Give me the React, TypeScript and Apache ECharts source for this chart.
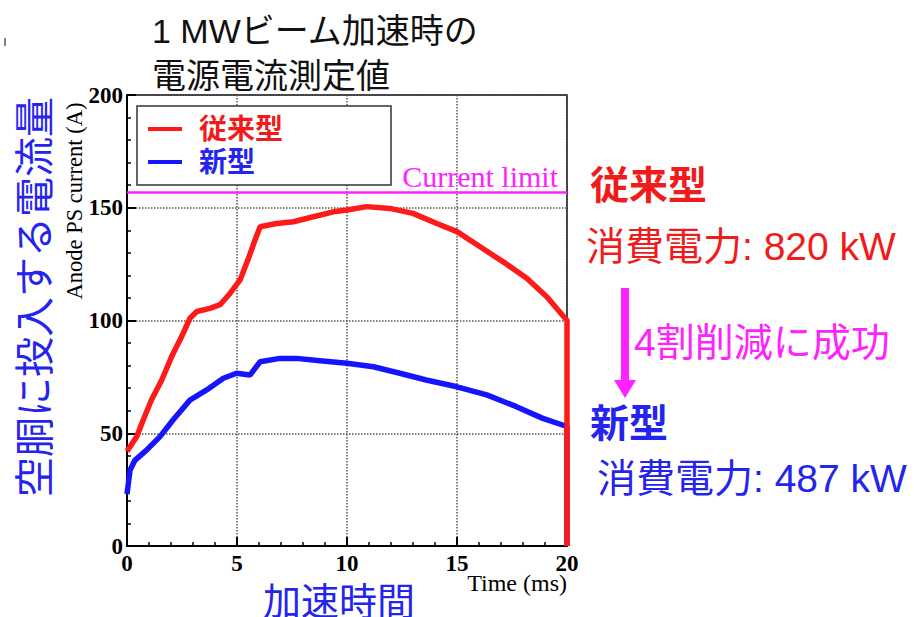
import React, { useEffect, useRef } from "react";
import * as echarts from "echarts";

// ---- data ----
const xTicks = [0, 5, 10, 15, 20];
const yTicks = [0, 50, 100, 150, 200];
const currentLimit = 157;

const legacyName = "従来型";
const newName = "新型";

const timeLegacy = [0, 0.44, 0.74, 1.12, 1.58, 2.03, 2.49, 2.86, 3.17, 3.77, 4.23, 4.68, 5.14, 5.5, 5.82, 6.05, 6.8, 7.56, 8.47, 9.38, 10.0, 10.9, 11.95, 13.0, 14.08, 15.0, 16.05, 17.1, 18.17, 19.08, 20, 20];
const currentLegacy = [42, 48.5, 56, 65, 73.6, 84, 93, 101, 104, 105.4, 107, 112, 118, 127, 135.7, 141.6, 143, 143.8, 146, 148.2, 149, 150.5, 149.7, 147.5, 143, 139.4, 132.7, 126, 118.7, 110.5, 100, 0];

const timeNew = [0, 0.14, 0.36, 0.9, 1.5, 2.1, 2.86, 3.62, 4.38, 4.98, 5.59, 6.05, 6.95, 7.7, 8.77, 10.0, 11.2, 12.4, 13.6, 15.0, 16.35, 17.7, 18.9, 20, 20];
const currentNew = [23, 33.7, 38, 42.6, 48.5, 56, 64.7, 69.2, 74.4, 76.6, 75.8, 81.7, 83.2, 83.2, 82.2, 81, 79.5, 76.6, 73.6, 70.6, 67, 61.8, 56.6, 53, 0];

const RED = "#ff1a1a";
const RED_TEXT = "#f01c1c";
const BLUE = "#1414ff";
const BLUE_TEXT = "#2424ee";
const MAGENTA = "#ff22ff";
const SERIF = "'Liberation Serif', 'DejaVu Serif', serif";
const SANS = "'Liberation Sans', 'Noto Sans CJK JP', 'Noto Sans', sans-serif";

export default function App() {
  const ref = useRef<HTMLDivElement>(null);

  useEffect(() => {
    if (!ref.current) return;
    const chart = echarts.init(ref.current, undefined, { renderer: "svg" });

    const legacyData = timeLegacy.map((t, i) => [t, currentLegacy[i]]);
    const newData = timeNew.map((t, i) => [t, currentNew[i]]);

    chart.setOption({
      animation: false,
      backgroundColor: "#ffffff",
      grid: {
        left: 127,
        top: 95,
        width: 440,
        height: 451,
        show: true,
        borderColor: "#000",
        borderWidth: 1.5,
        backgroundColor: "transparent",
      },
      xAxis: {
        type: "value",
        min: xTicks[0],
        max: xTicks[xTicks.length - 1],
        interval: 5,
        axisLine: { show: true, lineStyle: { color: "#000", width: 2 } },
        axisTick: { show: true, inside: true, length: 9, lineStyle: { color: "#000", width: 2 } },
        minorTick: { show: true, splitNumber: 5, length: 4, lineStyle: { color: "#000", width: 1.5 } },
        splitLine: { show: true, lineStyle: { color: "#555", type: "dotted", width: 1.5 } },
        axisLabel: {
          fontFamily: SERIF,
          fontWeight: "bold",
          fontSize: 23,
          color: "#000",
          margin: 6,
        },
      },
      yAxis: {
        type: "value",
        min: yTicks[0],
        max: yTicks[yTicks.length - 1],
        interval: 50,
        axisLine: { show: true, lineStyle: { color: "#000", width: 2 } },
        axisTick: { show: true, inside: true, length: 9, lineStyle: { color: "#000", width: 2 } },
        minorTick: { show: true, splitNumber: 5, length: 4, lineStyle: { color: "#000", width: 1.5 } },
        splitLine: { show: true, lineStyle: { color: "#555", type: "dotted", width: 1.5 } },
        axisLabel: {
          fontFamily: SERIF,
          fontWeight: "bold",
          fontSize: 23,
          color: "#000",
          margin: 4,
        },
      },
      legend: {
        orient: "vertical",
        left: 148,
        top: 115,
        padding: 0,
        itemGap: 5,
        itemWidth: 34,
        itemHeight: 4,
        icon: "rect",
        z: 20,
        selectedMode: false,
        textStyle: {
          fontFamily: SANS,
          fontWeight: "bold",
          fontSize: 28,
          lineHeight: 28,
          padding: [0, 0, 0, 12],
        },
        data: [
          { name: legacyName, textStyle: { color: RED_TEXT } },
          { name: newName, textStyle: { color: BLUE_TEXT } },
        ],
      },
      series: [
        {
          name: newName,
          type: "line",
          data: newData,
          showSymbol: false,
          symbol: "none",
          lineStyle: { color: BLUE, width: 5.5 },
          itemStyle: { color: BLUE },
          z: 3,
        },
        {
          name: legacyName,
          type: "line",
          data: legacyData,
          showSymbol: false,
          symbol: "none",
          lineStyle: { color: RED, width: 5.5 },
          itemStyle: { color: RED },
          z: 4,
          markLine: {
            symbol: "none",
            silent: true,
            lineStyle: { color: MAGENTA, width: 2.5, type: "solid" },
            label: {
              show: true,
              position: "insideEndTop",
              formatter: "Current limit",
              fontFamily: SERIF,
              fontSize: 30,
              color: MAGENTA,
              distance: [9, 0],
            },
            data: [{ yAxis: currentLimit }],
          },
        },
      ],
      graphic: [
        { type: "line", shape: { x1: 5, y1: 38, x2: 5, y2: 46 }, style: { stroke: "#000", lineWidth: 1 } },
        {
          type: "rect",
          z: 10,
          shape: { x: 137, y: 106, width: 254, height: 79 },
          style: { fill: "#fff", stroke: "#333", lineWidth: 1.5 },
        },
        {
          type: "text",
          x: 152,
          y: 31,
          style: { text: "1 MWビーム加速時の", font: `34px ${SANS}`, fill: "#111", align: "left", verticalAlign: "middle" },
        },
        {
          type: "text",
          x: 152,
          y: 76,
          style: { text: "電源電流測定値", font: `34px ${SANS}`, fill: "#111", align: "left", verticalAlign: "middle" },
        },
        {
          type: "text",
          x: 35,
          y: 297,
          rotation: Math.PI / 2,
          style: { text: "空胴に投入する電流量", font: `40px ${SANS}`, fill: BLUE_TEXT, align: "center", verticalAlign: "middle" },
        },
        {
          type: "text",
          x: 74,
          y: 201,
          rotation: Math.PI / 2,
          style: { text: "Anode PS current (A)", font: `22.5px ${SERIF}`, fill: "#000", align: "center", verticalAlign: "middle" },
        },
        {
          type: "text",
          x: 567,
          y: 583,
          style: { text: "Time (ms)", font: `24px ${SERIF}`, fill: "#000", align: "right", verticalAlign: "middle" },
        },
        {
          type: "text",
          x: 263,
          y: 602,
          style: { text: "加速時間", font: `38px ${SANS}`, fill: BLUE_TEXT, align: "left", verticalAlign: "middle" },
        },
        {
          type: "text",
          x: 590,
          y: 185,
          style: { text: "従来型", font: `bold 39px ${SANS}`, fill: RED_TEXT, align: "left", verticalAlign: "middle" },
        },
        {
          type: "text",
          x: 586,
          y: 246,
          style: { text: "消費電力: 820 kW", font: `39px ${SANS}`, fill: RED_TEXT, align: "left", verticalAlign: "middle" },
        },
        {
          type: "rect",
          shape: { x: 621, y: 288, width: 8, height: 94 },
          style: { fill: MAGENTA },
        },
        {
          type: "polygon",
          shape: { points: [[614, 380], [636, 380], [625, 398]] },
          style: { fill: MAGENTA },
        },
        {
          type: "text",
          x: 634,
          y: 342,
          style: { text: "4割削減に成功", font: `39px ${SANS}`, fill: MAGENTA, align: "left", verticalAlign: "middle" },
        },
        {
          type: "text",
          x: 590,
          y: 423,
          style: { text: "新型", font: `bold 39px ${SANS}`, fill: BLUE_TEXT, align: "left", verticalAlign: "middle" },
        },
        {
          type: "text",
          x: 597,
          y: 478,
          style: { text: "消費電力: 487 kW", font: `39px ${SANS}`, fill: BLUE_TEXT, align: "left", verticalAlign: "middle" },
        },
      ],
    });

    return () => chart.dispose();
  }, []);

  return (
    <div
      ref={ref}
      style={{ position: "fixed", left: 0, top: 0, width: 914, height: 617, background: "#fff" }}
    />
  );
}
